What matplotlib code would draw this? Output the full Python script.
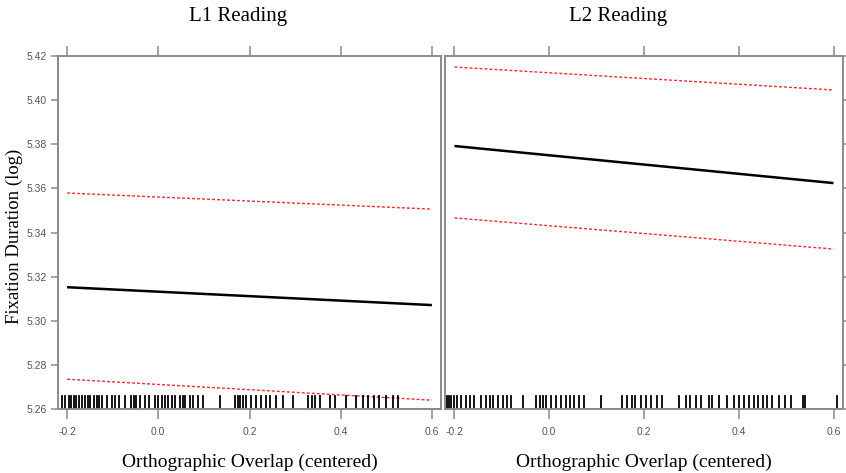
import numpy as np
import matplotlib
matplotlib.use("Agg")
import matplotlib.pyplot as plt

# effect lines: values at x = -0.2 and x = 0.6
x_ends = [-0.2, 0.6]
l1_fit = [5.3152, 5.3071]
l1_upper = [5.3579, 5.3506]
l1_lower = [5.2735, 5.2640]
l2_fit = [5.3792, 5.3624]
l2_upper = [5.4150, 5.4046]
l2_lower = [5.3466, 5.3325]

# observed orthographic overlap values (rug)
l1_rug = [-0.211, -0.204, -0.196, -0.191, -0.184, -0.180, -0.175, -0.167, -0.160,
          -0.155, -0.149, -0.142, -0.134, -0.129, -0.123, -0.113, -0.102, -0.094,
          -0.087, -0.072, -0.060, -0.054, -0.048, -0.040, -0.029, -0.021, -0.007,
          0.000, 0.008, 0.015, 0.022, 0.030, 0.037, 0.048, 0.054, 0.059, 0.070,
          0.077, 0.088, 0.099, 0.135, 0.168, 0.175, 0.180, 0.186, 0.193, 0.204,
          0.215, 0.226, 0.237, 0.246, 0.259, 0.274, 0.295, 0.328, 0.336, 0.343,
          0.354, 0.376, 0.387, 0.412, 0.434, 0.448, 0.459, 0.474, 0.485, 0.499,
          0.514, 0.525]
l2_rug = [-0.216, -0.212, -0.207, -0.202, -0.195, -0.186, -0.175, -0.167, -0.158,
          -0.144, -0.133, -0.125, -0.118, -0.109, -0.098, -0.090, -0.081, -0.056,
          -0.028, -0.020, -0.013, -0.006, 0.004, 0.015, 0.025, 0.035, 0.044, 0.053,
          0.063, 0.074, 0.109, 0.154, 0.165, 0.174, 0.182, 0.193, 0.204, 0.215,
          0.228, 0.239, 0.274, 0.288, 0.298, 0.309, 0.321, 0.337, 0.344, 0.358,
          0.375, 0.389, 0.400, 0.411, 0.421, 0.432, 0.441, 0.451, 0.460, 0.470,
          0.484, 0.498, 0.511, 0.535, 0.540, 0.607]

panel_titles = ["L1 Reading", "L2 Reading"]
x_ticks = [-0.2, 0.0, 0.2, 0.4, 0.6]
y_ticks = [5.26, 5.28, 5.30, 5.32, 5.34, 5.36, 5.38, 5.40, 5.42]

serif = ["Liberation Serif", "DejaVu Serif"]
narrow = ["Liberation Sans Narrow", "Liberation Sans", "DejaVu Sans"]
frame_col = "#8a8a8a"
tick_col = "#555555"

fig = plt.figure(figsize=(8.46, 4.73), dpi=100)
W, H = 846.0, 473.0
boxes = [(58, 441), (445, 843)]
title_x = [238, 618]
top_px, bot_px = 56, 409

panels = [
    (l1_fit, l1_upper, l1_lower, l1_rug),
    (l2_fit, l2_upper, l2_lower, l2_rug),
]

for i, ((x0, x1), (fit, up, lo, rug)) in enumerate(zip(boxes, panels)):
    ax = fig.add_axes([x0 / W, 1 - bot_px / H, (x1 - x0) / W, (bot_px - top_px) / H])
    ax.plot(x_ends, fit, color="black", lw=1.8, solid_capstyle="butt")
    ax.plot(x_ends, up, color="#e8333a", lw=1.0, linestyle=(0, (2.2, 1.4)))
    ax.plot(x_ends, lo, color="#e8333a", lw=1.0, linestyle=(0, (2.2, 1.4)))

    # rug along the bottom edge
    for r in rug:
        ax.axvline(r, ymin=0, ymax=0.036, color="black", lw=1.3)

    ax.set_xlim(-0.22, 0.62)
    ax.set_ylim(5.26, 5.42)
    ax.set_xticks(x_ticks)
    ax.set_yticks(y_ticks)
    for s in ax.spines.values():
        s.set_color(frame_col)
        s.set_linewidth(1.4)

    ax.tick_params(axis="x", which="both", direction="out", length=7, width=1.1,
                   color=frame_col, top=True, bottom=True, labelsize=7.5,
                   labelcolor=tick_col, pad=6)
    if i == 0:
        ax.tick_params(axis="y", direction="out", length=5, width=1.1, color=frame_col,
                       left=True, right=False, labelsize=7.5, labelcolor=tick_col, pad=3)
        ax.set_yticklabels([f"{v:.2f}" for v in y_ticks])
    else:
        ax.tick_params(axis="y", direction="out", length=4, width=1.1, color=frame_col,
                       left=False, right=True, labelleft=False, labelright=False)
    ax.set_xticklabels([f"{v:.1f}" for v in x_ticks])
    for lab in ax.get_xticklabels() + ax.get_yticklabels():
        lab.set_family(narrow)

    ax.set_xlabel("Orthographic Overlap (centered)", family=serif, fontsize=14, labelpad=12)
    fig.text(title_x[i] / W, 1 - 17 / H, panel_titles[i], family=serif, fontsize=15,
             ha="center", va="center")

fig.text(14 / W, 1 - 236 / H, "Fixation Duration (log)", family=serif, fontsize=13.5,
         rotation=90, ha="center", va="center")

fig.savefig("out.png", dpi=100)
